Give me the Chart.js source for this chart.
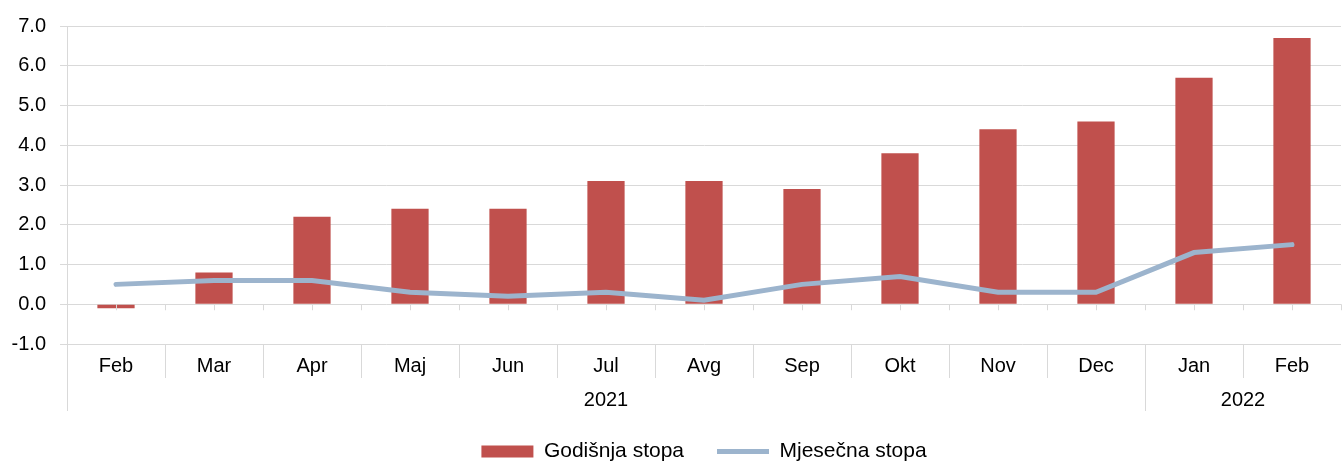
<!DOCTYPE html>
<html>
<head>
<meta charset="utf-8">
<script src="https://cdn.jsdelivr.net/npm/chart.js@4/dist/chart.umd.min.js"></script>
<style>
html,body{margin:0;padding:0;background:#fff;}
#wrap{width:1343px;height:462px;position:relative;}
</style>
</head>
<body>
<div id="wrap"><canvas id="c" width="1343" height="462"></canvas></div>
<script>
const months = ["Feb","Mar","Apr","Maj","Jun","Jul","Avg","Sep","Okt","Nov","Dec","Jan","Feb"];
const yearGroups = [{label:"2021", from:0, to:10},{label:"2022", from:11, to:12}];
const annualRate = [-0.1,0.8,2.2,2.4,2.4,3.1,3.1,2.9,3.8,4.4,4.6,5.7,6.7];
const monthlyRate = [0.5,0.6,0.6,0.3,0.2,0.3,0.1,0.5,0.7,0.3,0.3,1.3,1.5];
const yTicks = {min:-1, max:7, step:1};

const FONT = "'Liberation Sans', Arial, sans-serif";
const GRID = '#d9d9d9';

const groupPlugin = {
  id:'groupPlugin',
  afterDatasetsDraw(chart){
    const {ctx} = chart;
    const x = chart.scales.x, y = chart.scales.y;
    const y0 = y.getPixelForValue(0);
    const half = (x.getPixelForValue(1)-x.getPixelForValue(0))/2;
    ctx.save();
    ctx.strokeStyle = GRID;
    ctx.lineWidth = 1;
    for(let i=0;i<months.length;i++){
      const c = x.getPixelForValue(i);
      [c, c+half].forEach(px=>{
        ctx.beginPath();
        ctx.moveTo(Math.round(px)+0.5, y0);
        ctx.lineTo(Math.round(px)+0.5, y0+6);
        ctx.stroke();
      });
    }
    ctx.restore();
  },
  afterDraw(chart){
    const {ctx, chartArea} = chart;
    const x = chart.scales.x;
    const half = (x.getPixelForValue(1)-x.getPixelForValue(0))/2;
    const bottom = chartArea.bottom;
    ctx.save();
    ctx.strokeStyle = GRID;
    ctx.lineWidth = 1;
    for(let i=0;i<months.length;i++){
      const px = Math.round(x.getPixelForValue(i) - half)+0.5;
      const isGroupEdge = yearGroups.some(g=>g.from===i);
      ctx.beginPath();
      ctx.moveTo(px, bottom);
      ctx.lineTo(px, bottom + (isGroupEdge ? 67 : 34));
      ctx.stroke();
    }
    ctx.fillStyle = '#000';
    ctx.font = "20px " + FONT;
    ctx.textAlign = 'center';
    ctx.textBaseline = 'middle';
    yearGroups.forEach(g=>{
      const l = x.getPixelForValue(g.from) - half;
      const r = x.getPixelForValue(g.to) + half;
      ctx.fillText(g.label, (l+r)/2, bottom + 56);
    });
    ctx.restore();
  }
};

new Chart(document.getElementById('c'), {
  data:{
    labels: months,
    datasets:[
      {type:'line', label:'Mjesečna stopa', data: monthlyRate, borderColor:'#9cb4cd', backgroundColor:'#9cb4cd',
       borderWidth:5, pointRadius:0, pointHoverRadius:0, tension:0, order:0, pointStyle:'line', borderCapStyle:'round'},
      {type:'bar', label:'Godišnja stopa', data: annualRate, backgroundColor:'#c0504d', borderWidth:0,
       barPercentage:0.38, categoryPercentage:1.0, order:1, pointStyle:'rect'}
    ]
  },
  options:{
    responsive:false,
    animation:false,
    layout:{padding:{left:0,right:2,top:10,bottom:-10}},
    plugins:{
      tooltip:{enabled:false},
      legend:{
        position:'bottom',
        fullSize:false,
        reverse:true,
        labels:{
          usePointStyle:true,
          pointStyleWidth:52,
          boxHeight:12,
          padding:33,
          color:'#000',
          font:{size:21, family:FONT}
        }
      }
    },
    scales:{
      x:{
        grid:{display:false, drawTicks:false},
        border:{display:false},
        ticks:{color:'#000', font:{size:20, family:FONT}, padding:10, maxRotation:0, autoSkip:false},
        afterFit(s){ s.height = 64; }
      },
      y:{
        min:yTicks.min, max:yTicks.max,
        ticks:{stepSize:yTicks.step, color:'#000', font:{size:20, family:FONT}, padding:14,
          callback:v=>v.toFixed(1)},
        grid:{color:GRID, tickLength:7, lineWidth:1},
        border:{display:true, color:GRID},
        afterFit(s){ s.width = 67; }
      }
    }
  },
  plugins:[groupPlugin]
});
</script>
</body>
</html>
